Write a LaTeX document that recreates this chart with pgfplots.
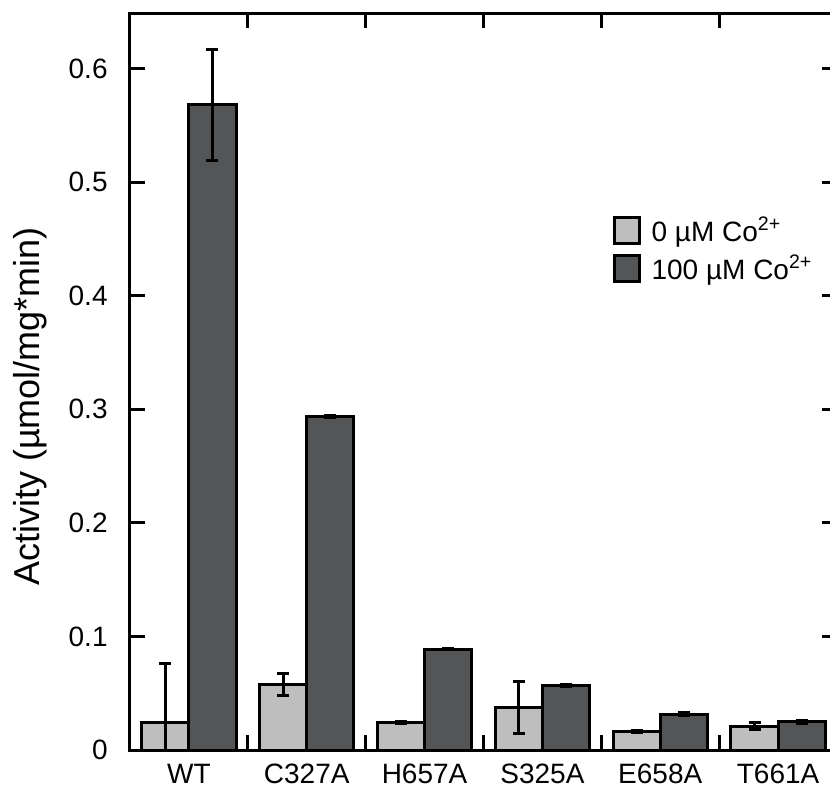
\documentclass[border=0pt]{standalone}
\usepackage{fontspec}
\setmainfont{Liberation Sans}
\usepackage{pgfplots}
\pgfplotsset{compat=1.18}
\definecolor{lightbar}{HTML}{BEBEBE}
\definecolor{darkbar}{HTML}{545556}

% light bars plotted at category - 0.2, dark bars at category + 0.2
\pgfplotstableread{
x y e
-0.2 0.024 0.052
0.8 0.0575 0.0095
1.8 0.024 0.001
2.8 0.0372 0.023
3.8 0.0161 0.001
4.8 0.021 0.003
}\lightdata
\pgfplotstableread{
x y e
0.2 0.568 0.049
1.2 0.294 0.001
2.2 0.0886 0.0005
3.2 0.0566 0.0007
4.2 0.0317 0.0012
5.2 0.0249 0.0012
}\darkdata

\begin{document}
\begin{tikzpicture}
\begin{axis}[
 at={(0,0)}, anchor=south west,
 scale only axis, width=353.5pt, height=368.5pt,
 xmin=-0.5, xmax=5.5, ymin=0, ymax=0.649,
 axis line style={line width=1.5pt},
 /pgf/number format/assume math mode=true,
 font=\fontsize{14}{16}\selectfont,
 xtick={0.5,1.5,2.5,3.5,4.5}, xticklabels=\empty,
 extra x ticks={0,1,2,3,4,5},
 extra x tick labels={WT,C327A,H657A,S325A,E658A,T661A},
 extra x tick style={tick style={draw=none}},
 xticklabel style={inner sep=0pt, yshift=-7pt, anchor=north},
 ytick={0,0.1,0.2,0.3,0.4,0.5,0.6},
 yticklabels={0,0.1,0.2,0.3,0.4,0.5,0.6},
 yticklabel style={inner sep=0pt, xshift=-11pt, anchor=east},
 major tick length=7.5pt,
 tick style={line width=1.5pt, black},
 tick align=inside,
 ylabel={Activity (µmol/mg*min)},
 ylabel style={font=\fontsize{18}{20}\selectfont, at={(axis description cs:-0.1174,0.466)}, anchor=south, inner sep=0pt},
 legend image code/.code={\draw[#1, line width=1.5pt] (0pt,-6.5pt) rectangle (12.5pt,6.5pt);},
 legend style={at={(axis description cs:0.682,0.729)}, anchor=north west, draw=none, fill=none, inner sep=0pt, font=\fontsize{14}{15}\selectfont, cells={anchor=west}, row sep=1.5pt, /tikz/every odd column/.append style={column sep=3.5pt}},
]
\addplot[ybar, bar width=0.4, bar shift=0, fill=lightbar, draw=black, line width=1.5pt,
  error bars/.cd, y dir=both, y explicit, error mark=|,
  error bar style={line width=1.5pt, black},
  error mark options={mark size=3pt, line width=1.5pt, black}]
  table[x=x, y=y, y error=e] {\lightdata};
\addlegendentry{0 µM Co\textsuperscript{2+}}
\addplot[ybar, bar width=0.4, bar shift=0, fill=darkbar, draw=black, line width=1.5pt,
  error bars/.cd, y dir=both, y explicit, error mark=|,
  error bar style={line width=1.5pt, black},
  error mark options={mark size=3pt, line width=1.5pt, black}]
  table[x=x, y=y, y error=e] {\darkdata};
\addlegendentry{100 µM Co\textsuperscript{2+}}
\end{axis}
\pgfresetboundingbox
\path (-65pt,-19.5pt) rectangle (350pt,375pt);
\end{tikzpicture}
\end{document}
